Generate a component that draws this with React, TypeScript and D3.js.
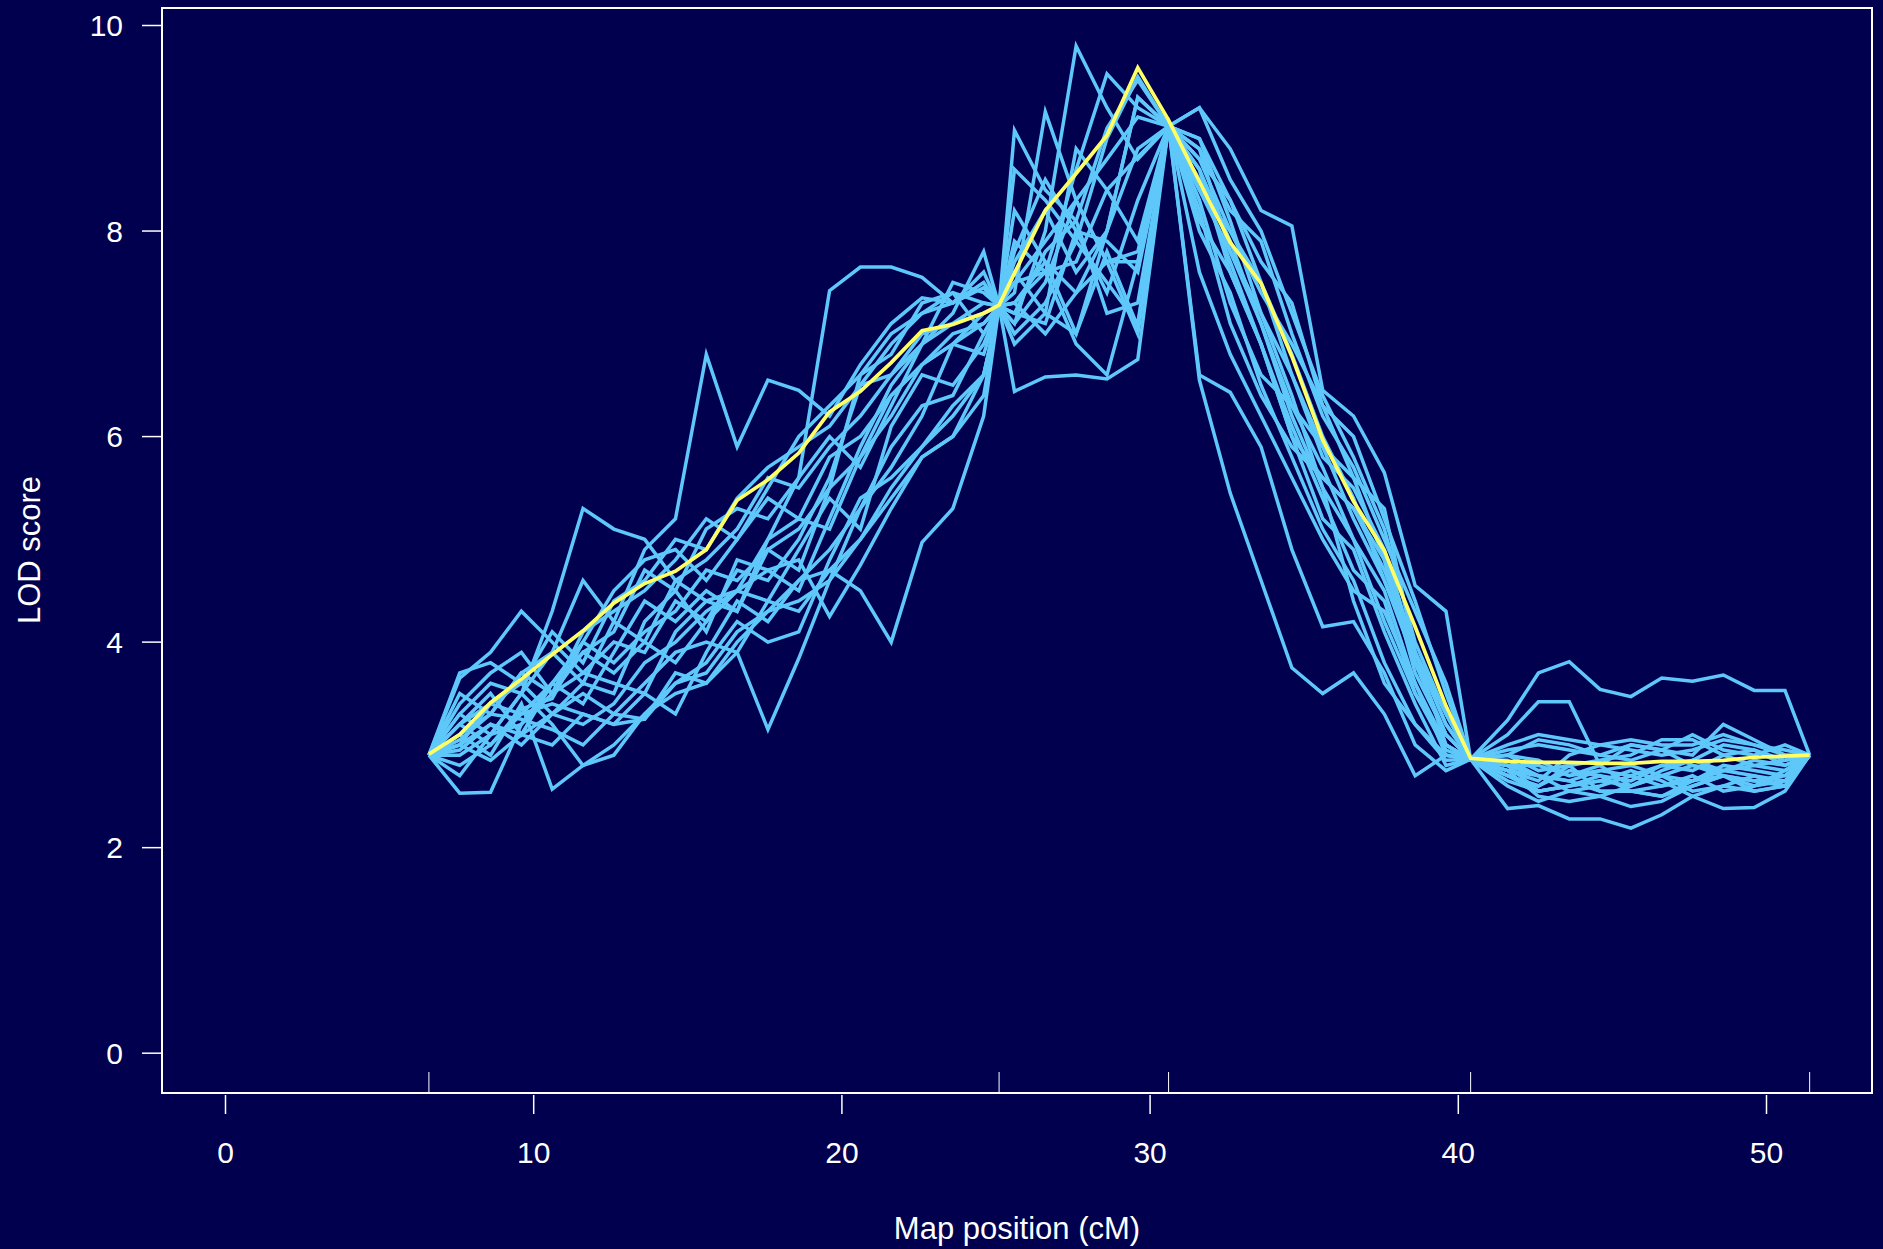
import React from "react";
import * as d3 from "d3";

// Map positions (cM): pseudomarker grid plus markers
const positions = [
  6.6, 7.6, 8.6, 9.6, 10.6, 11.6, 12.6, 13.6, 14.6, 15.6, 16.6, 17.6, 18.6, 19.6,
  20.6, 21.6, 22.6, 23.6, 24.6, 25.1, 25.6, 26.6, 27.6, 28.6, 29.6, 30.6, 31.6,
  32.6, 33.6, 34.6, 35.6, 36.6, 37.6, 38.6, 39.6, 40.4, 41.6, 42.6, 43.6, 44.6,
  45.6, 46.6, 47.6, 48.6, 49.6, 50.6, 51.4,
];
const markers = [6.6, 25.1, 30.6, 40.4, 51.4];
const xTicks = [0, 10, 20, 30, 40, 50];
const yTicks = [0, 2, 4, 6, 8, 10];

const draw01 = [2.9, 3.3, 3.1, 3.5, 3.9, 4.6, 4.2, 4.9, 5.2, 6.8, 5.9, 6.55, 6.45, 6.2, 6.7, 7.1, 7.35, 7.3, 7.5, 7.27, 7.5, 7.9, 8.3, 7.7, 7.7, 9.02, 8.4, 7.8, 7.2, 6.6, 5.8, 5.5, 4.9, 3.9, 3.2, 2.86, 2.7, 2.6, 2.75, 2.7, 2.65, 2.8, 2.75, 2.9, 2.8, 2.75, 2.9];
const draw02 = [2.9, 3.2, 3.4, 3.3, 3.6, 3.9, 4.1, 4.7, 4.5, 5.1, 5.3, 5.2, 5.6, 7.42, 7.65, 7.65, 7.55, 7.3, 7.45, 7.27, 7.0, 7.3, 7.9, 8.9, 9.5, 9.02, 8.9, 8.3, 7.7, 7.3, 6.3, 5.6, 4.8, 3.8, 3.1, 2.86, 2.95, 3.0, 2.95, 2.9, 3.0, 2.95, 2.8, 2.75, 2.85, 2.8, 2.9];
const draw03 = [2.9, 3.05, 3.3, 3.25, 3.15, 3.0, 3.3, 3.6, 3.9, 4.0, 3.9, 3.15, 3.84, 4.6, 5.3, 5.9, 6.3, 6.4, 7.0, 7.27, 7.2, 7.1, 8.0, 7.4, 8.3, 9.02, 7.6, 6.8, 6.2, 5.6, 5.0, 4.5, 4.3, 3.6, 3.0, 2.86, 2.8, 2.55, 2.6, 2.65, 2.6, 2.7, 2.8, 2.7, 2.65, 2.7, 2.9];
const draw04 = [2.9, 2.8, 3.0, 3.3, 3.4, 3.3, 3.2, 3.25, 3.6, 3.7, 4.1, 4.3, 4.6, 4.7, 4.5, 4.0, 4.97, 5.3, 6.2, 7.27, 7.3, 7.7, 7.4, 7.7, 7.8, 9.02, 8.7, 8.0, 7.5, 6.6, 5.9, 5.6, 5.3, 3.9, 3.0, 2.86, 2.6, 2.45, 2.55, 2.5, 2.6, 2.7, 2.55, 2.6, 2.55, 2.6, 2.9];
const draw05 = [2.9, 3.7, 3.8, 3.6, 3.3, 3.2, 3.4, 3.8, 4.0, 4.3, 4.5, 4.7, 4.8, 4.25, 4.75, 5.3, 5.8, 6.0, 6.6, 7.27, 8.6, 8.3, 7.9, 7.5, 7.1, 9.02, 8.9, 8.1, 7.2, 6.4, 5.5, 5.0, 4.5, 3.6, 2.9, 2.86, 3.1, 3.42, 3.42, 2.8, 2.6, 2.75, 2.85, 3.0, 2.95, 2.85, 2.9];
const draw06 = [2.9, 2.53, 2.54, 3.2, 3.5, 3.7, 3.6, 3.5, 4.1, 4.4, 4.3, 4.9, 4.7, 5.5, 6.6, 6.8, 7.3, 7.4, 7.0, 7.27, 6.9, 7.2, 7.0, 8.0, 9.3, 9.02, 8.6, 7.6, 6.9, 6.1, 5.4, 4.7, 4.4, 3.5, 3.0, 2.86, 2.8, 2.7, 2.65, 2.55, 2.55, 2.6, 2.65, 2.7, 2.6, 2.65, 2.9];
const draw07 = [2.9, 3.1, 2.9, 3.4, 2.57, 2.8, 3.0, 3.3, 3.6, 3.8, 4.2, 4.0, 4.1, 4.8, 5.4, 5.6, 5.9, 6.2, 6.6, 7.27, 7.5, 7.6, 6.9, 6.6, 7.7, 9.02, 8.0, 7.4, 6.5, 5.8, 5.1, 4.6, 3.8, 3.2, 2.9, 2.86, 2.9, 2.75, 2.8, 2.85, 2.9, 3.05, 3.05, 2.9, 2.95, 2.8, 2.9];
const draw08 = [2.9, 3.3, 3.6, 3.5, 4.3, 5.3, 5.1, 5.0, 4.6, 4.8, 5.1, 5.6, 5.5, 5.9, 6.2, 6.6, 7.0, 7.1, 7.3, 7.27, 8.98, 8.4, 8.1, 7.2, 7.3, 9.02, 8.8, 8.2, 7.9, 7.0, 6.2, 5.7, 5.0, 4.3, 3.6, 2.86, 2.85, 2.7, 2.65, 2.75, 2.8, 2.7, 2.65, 2.8, 2.75, 2.7, 2.9];
const draw09 = [2.9, 3.65, 3.9, 4.3, 4.0, 3.7, 4.0, 3.9, 4.4, 4.2, 4.7, 4.6, 5.0, 5.6, 6.5, 6.9, 7.2, 7.4, 7.3, 7.27, 7.2, 7.8, 8.1, 9.0, 9.47, 9.02, 9.2, 8.5, 8.0, 7.2, 6.4, 5.8, 5.1, 4.0, 3.3, 2.86, 2.75, 2.5, 2.45, 2.5, 2.4, 2.45, 2.6, 2.7, 2.55, 2.6, 2.9];
const draw10 = [2.9, 3.2, 3.5, 3.1, 3.6, 4.0, 4.5, 4.8, 4.9, 4.6, 5.0, 5.4, 5.2, 5.8, 6.0, 6.4, 6.7, 6.9, 7.1, 7.27, 7.1, 8.0, 9.8, 9.2, 8.7, 9.02, 8.7, 8.3, 7.5, 6.8, 6.0, 5.4, 4.6, 3.9, 3.2, 2.86, 2.75, 2.65, 2.9, 3.0, 3.05, 3.0, 3.0, 3.1, 3.0, 2.9, 2.9];
const draw11 = [2.9, 3.0, 3.2, 3.0, 3.3, 3.6, 3.5, 4.2, 4.5, 4.1, 4.8, 4.7, 4.5, 5.2, 5.9, 6.5, 6.9, 7.2, 7.8, 7.27, 7.4, 9.16, 8.3, 7.7, 7.0, 9.02, 8.5, 7.7, 6.9, 6.0, 5.2, 4.9, 4.1, 3.4, 2.8, 2.86, 3.24, 3.7, 3.81, 3.54, 3.47, 3.65, 3.62, 3.68, 3.53, 3.53, 2.9];
const draw12 = [2.9, 3.1, 3.3, 3.7, 3.5, 3.9, 3.7, 4.0, 3.8, 4.2, 4.5, 4.4, 4.9, 5.4, 5.1, 6.1, 6.6, 6.5, 6.9, 7.27, 6.44, 6.58, 6.6, 6.56, 6.75, 9.02, 8.2, 7.1, 6.4, 5.9, 5.6, 5.3, 4.8, 3.7, 3.1, 2.86, 2.7, 2.55, 2.6, 2.65, 2.75, 2.65, 2.5, 2.38, 2.39, 2.55, 2.9];
const draw13 = [2.9, 2.9, 3.1, 3.2, 3.6, 3.4, 3.9, 4.4, 4.2, 4.5, 4.3, 5.0, 5.2, 5.1, 5.8, 6.2, 6.7, 6.9, 6.8, 7.27, 7.6, 7.2, 8.8, 8.4, 7.9, 9.02, 6.55, 5.45, 4.6, 3.75, 3.5, 3.7, 3.3, 2.7, 2.9, 2.86, 2.7, 2.6, 2.8, 2.55, 2.55, 2.5, 2.65, 2.75, 2.7, 2.6, 2.9];
const draw14 = [2.9, 3.4, 3.7, 3.9, 3.5, 4.1, 4.3, 4.5, 4.8, 5.2, 5.0, 5.5, 6.0, 6.3, 6.6, 7.0, 7.2, 7.3, 7.6, 7.27, 7.3, 7.6, 8.6, 9.53, 9.2, 9.02, 9.2, 8.8, 8.2, 8.05, 6.45, 6.2, 5.65, 4.55, 4.3, 2.86, 3.0, 3.1, 3.05, 3.0, 2.95, 2.9, 2.95, 3.05, 3.0, 2.95, 2.9];
const draw15 = [2.9, 3.0, 2.85, 3.1, 3.0, 3.3, 3.2, 3.5, 3.3, 3.9, 4.4, 4.2, 4.6, 4.9, 5.3, 5.7, 6.2, 6.9, 7.2, 7.27, 7.7, 8.2, 7.6, 8.0, 8.8, 9.02, 8.3, 7.3, 6.6, 6.3, 5.9, 5.2, 4.6, 3.8, 3.1, 2.86, 2.38, 2.41, 2.28, 2.28, 2.19, 2.32, 2.5, 2.6, 2.7, 2.65, 2.9];
const draw16 = [2.9, 3.5, 3.3, 3.7, 3.9, 3.6, 4.2, 4.0, 4.6, 4.4, 4.5, 5.0, 5.6, 6.0, 5.7, 6.3, 6.9, 7.5, 7.4, 7.27, 8.2, 7.7, 7.0, 7.8, 7.07, 9.02, 8.6, 7.9, 7.1, 6.3, 5.7, 5.0, 4.2, 3.5, 2.95, 2.86, 2.9, 3.05, 3.0, 2.9, 2.85, 2.95, 2.9, 3.2, 3.05, 2.9, 2.9];
const draw17 = [2.9, 2.7, 3.1, 3.5, 3.2, 2.8, 2.9, 3.3, 3.5, 3.6, 3.9, 4.4, 4.3, 4.7, 5.0, 5.4, 5.8, 6.0, 6.4, 7.27, 7.1, 7.5, 8.3, 8.7, 9.11, 9.02, 8.8, 7.8, 7.1, 6.2, 5.5, 4.4, 3.6, 3.2, 2.85, 2.86, 2.75, 2.7, 2.55, 2.6, 2.7, 2.6, 2.7, 2.55, 2.6, 2.75, 2.9];
const draw18 = [2.9, 3.2, 3.0, 3.35, 3.45, 4.0, 3.8, 4.1, 4.3, 4.7, 4.6, 4.9, 5.1, 5.5, 5.8, 6.4, 6.7, 7.0, 7.1, 7.27, 7.9, 7.6, 7.7, 8.4, 8.72, 9.02, 8.4, 8.0, 7.4, 6.9, 6.3, 6.0, 5.2, 4.4, 3.5, 2.86, 2.9, 2.85, 2.7, 2.8, 3.0, 2.95, 3.1, 2.95, 2.9, 3.0, 2.9];
const draw19 = [2.9, 3.0, 3.4, 3.6, 4.1, 3.8, 4.4, 4.6, 5.0, 4.9, 5.4, 5.7, 5.9, 6.1, 6.5, 6.6, 6.9, 7.1, 7.2, 7.27, 7.3, 7.0, 7.4, 8.0, 9.3, 9.02, 6.6, 6.43, 5.9, 4.9, 4.15, 4.2, 3.7, 3.0, 2.75, 2.86, 2.65, 2.55, 2.6, 2.7, 2.55, 2.5, 2.6, 2.7, 2.65, 2.6, 2.9];
const draw20 = [2.9, 2.95, 3.2, 3.1, 3.3, 3.5, 3.3, 3.25, 3.7, 3.6, 4.0, 4.3, 4.4, 4.6, 5.0, 5.5, 5.9, 6.3, 6.6, 7.27, 7.8, 8.5, 8.0, 7.9, 7.6, 9.02, 8.1, 7.6, 6.9, 6.0, 5.6, 5.3, 4.7, 3.9, 3.3, 2.86, 2.8, 2.8, 2.7, 2.75, 2.7, 2.8, 2.85, 2.75, 2.8, 2.85, 2.9];

const draws = [draw01, draw02, draw03, draw04, draw05, draw06, draw07, draw08, draw09, draw10,
  draw11, draw12, draw13, draw14, draw15, draw16, draw17, draw18, draw19, draw20];

// Combined LOD curve (yellow)
const combined = [2.91, 3.1, 3.41, 3.64, 3.88, 4.11, 4.38, 4.57, 4.69, 4.9, 5.38, 5.58, 5.84, 6.24, 6.44, 6.72, 7.03, 7.09, 7.2, 7.28, 7.59, 8.2, 8.56, 8.93, 9.59, 9.08, 8.48, 7.89, 7.49, 6.78, 5.97, 5.37, 4.89, 4.15, 3.38, 2.87, 2.84, 2.83, 2.83, 2.82, 2.82, 2.84, 2.84, 2.85, 2.88, 2.89, 2.9];

const W = 1883;
const H = 1249;
const box = { left: 162, right: 1872, top: 8, bottom: 1093 };
const BG = "#00004f";
const BLUE = "#5fc8fa";
const YELLOW = "#ffff64";
const FONT = "Liberation Sans, Arial, sans-serif";

export default function App() {
  const x = d3.scaleLinear().domain([0, 50]).range([225.5, 1766.5]);
  const y = d3.scaleLinear().domain([0, 10]).range([1053.2, 25.5]);
  const line = d3
    .line<number>()
    .x((_, i) => x(positions[i]))
    .y((d) => y(d));

  return (
    <svg
      width={W}
      height={H}
      style={{ position: "absolute", left: 0, top: 0, display: "block" }}
      fontFamily={FONT}
    >
      <rect x={0} y={0} width={W} height={H} fill={BG} />
      <defs>
        <clipPath id="plotclip">
          <rect x={box.left} y={box.top} width={box.right - box.left} height={box.bottom - box.top} />
        </clipPath>
      </defs>
      <g clipPath="url(#plotclip)">
        {draws.map((d, i) => (
          <path key={i} d={line(d) || ""} fill="none" stroke={BLUE} strokeWidth={3.5} strokeLinejoin="miter" strokeMiterlimit={10} />
        ))}
        <path d={line(combined) || ""} fill="none" stroke={YELLOW} strokeWidth={3.7} />
        {markers.map((m) => (
          <line key={m} x1={x(m)} x2={x(m)} y1={box.bottom} y2={box.bottom - 21} stroke="white" strokeWidth={1} />
        ))}
      </g>
      <rect
        x={box.left}
        y={box.top}
        width={box.right - box.left}
        height={box.bottom - box.top}
        fill="none"
        stroke="white"
        strokeWidth={2}
      />
      {yTicks.map((t) => (
        <g key={t}>
          <line x1={142} x2={box.left} y1={y(t)} y2={y(t)} stroke="white" strokeWidth={1.5} />
          <text x={123} y={y(t)} dy="0.36em" textAnchor="end" fill="white" fontSize={30}>
            {t}
          </text>
        </g>
      ))}
      {xTicks.map((t) => (
        <g key={t}>
          <line x1={x(t)} x2={x(t)} y1={1095} y2={1114} stroke="white" strokeWidth={1.5} />
          <text x={x(t)} y={1163} textAnchor="middle" fill="white" fontSize={30}>
            {t}
          </text>
        </g>
      ))}
      <text x={1017} y={1239} textAnchor="middle" fill="white" fontSize={31}>
        Map position (cM)
      </text>
      <text
        transform={`translate(40, 550) rotate(-90)`}
        textAnchor="middle"
        fill="white"
        fontSize={31}
      >
        LOD score
      </text>
    </svg>
  );
}
